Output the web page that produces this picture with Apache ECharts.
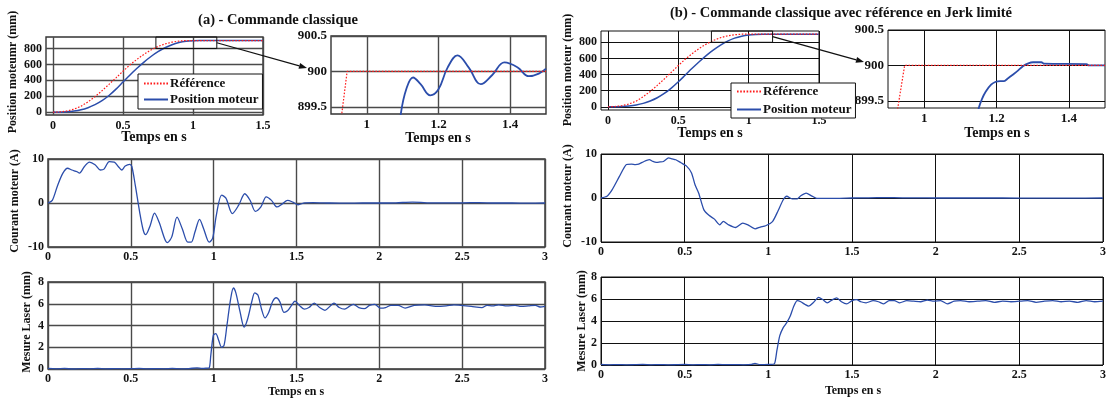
<!DOCTYPE html>
<html><head><meta charset="utf-8">
<script src="https://cdn.jsdelivr.net/npm/echarts@6/dist/echarts.min.js"></script>
<style>html,body{margin:0;padding:0;background:#fff}#c{width:1109px;height:403px}</style>
</head><body><div id="c"></div>
<script>
const FONT = '"Liberation Serif","Times New Roman",serif';
const BLUE = '#2b4dab';
const RED = '#ff1a1a';

// ---------- tick labels ----------
const ticksPosX = [0, 0.5, 1, 1.5];
const ticksPosY = [0, 200, 400, 600, 800];
const ticksZoomX = [1, 1.2, 1.4];
const ticksZoomY = [899.5, 900, 900.5];
const ticksTimeX = [0, 0.5, 1, 1.5, 2, 2.5, 3];
const ticksCurY = [-10, 0, 10];
const ticksLasY = [0, 2, 4, 6, 8];

// ---------- (a) commande classique ----------
const refA = [[0,0],[0.05,4],[0.1,16],[0.15,38],[0.2,75],[0.25,130],[0.3,195],[0.35,270],[0.4,350],[0.45,432],[0.5,515],[0.55,595],[0.6,665],[0.65,728],[0.7,782],[0.75,826],[0.8,858],[0.85,880],[0.9,894],[0.95,900],[1.5,900]];
const posA = [[0,0],[0.05,1],[0.1,5],[0.15,14],[0.2,30],[0.25,57],[0.3,95],[0.35,145],[0.4,210],[0.45,290],[0.5,380],[0.55,468],[0.6,552],[0.65,630],[0.7,700],[0.75,760],[0.8,810],[0.85,848],[0.9,875],[0.95,891],[1.0,898],[1.05,900],[1.5,900]];
const refZoomA = [[0.92,898.6],[0.93,899.4],[0.945,900],[1.5,900]];
const posZoomA = [[1.085,898.9],[1.095,899.41],[1.11,899.75],[1.129,899.915],[1.15,899.82],[1.177,899.664],[1.2,899.75],[1.225,900.05],[1.253,900.227],[1.285,900.05],[1.318,899.82],[1.35,899.95],[1.384,900.127],[1.42,900.06],[1.452,899.933],[1.48,899.97],[1.5,900.04]];
const curA = [[0,0],[0.026,0.6],[0.058,4],[0.09,6.8],[0.118,7.9],[0.144,7.5],[0.176,7.1],[0.19,6.8],[0.22,8.3],[0.25,9.3],[0.284,8.7],[0.316,7.5],[0.338,7.7],[0.37,9.4],[0.40,9.3],[0.424,8.3],[0.445,7.5],[0.466,8.4],[0.493,8.8],[0.506,8.3],[0.527,4],[0.553,-2],[0.575,-6.2],[0.59,-7.2],[0.617,-5.1],[0.643,-2.3],[0.671,-4.4],[0.704,-8.1],[0.721,-9],[0.747,-7.7],[0.779,-3.2],[0.811,-5.9],[0.844,-8.9],[0.865,-8.9],[0.887,-6.6],[0.915,-3.7],[0.94,-5.9],[0.973,-8.9],[0.994,-8],[1.016,-2.8],[1.048,1.8],[1.074,1.1],[1.113,-2.4],[1.151,-0.5],[1.188,2.1],[1.22,0.6],[1.252,-1.9],[1.285,-0.9],[1.317,1.4],[1.349,0.6],[1.382,-0.9],[1.414,-0.2],[1.446,0.6],[1.478,0.2],[1.51,-0.4],[1.55,0.05],[1.6,0.1],[1.7,0],[1.8,-0.05],[1.9,0],[2.0,0],[2.1,0.05],[2.2,0.2],[2.25,0.15],[2.3,0.05],[2.5,0.05],[2.6,0.1],[2.7,0],[2.8,0],[2.9,-0.05],[3.0,0]];
const lasA = [[0,0.05],[0.05,0.02],[0.1,0.05],[0.15,0],[0.2,0.04],[0.25,0.02],[0.3,0.05],[0.35,0.01],[0.4,0.04],[0.45,0.02],[0.5,0.03],[0.55,0.05],[0.6,0.01],[0.65,0.04],[0.7,0.02],[0.75,0.05],[0.8,0.02],[0.85,0.04],[0.9,0.1],[0.93,0.05],[0.96,0.08],[0.973,0.1],[0.983,1.3],[0.998,3.1],[1.013,3.25],[1.03,2.65],[1.048,2],[1.063,2.2],[1.08,4],[1.102,6.4],[1.119,7.45],[1.134,7],[1.16,5.2],[1.184,3.85],[1.205,4.6],[1.231,6.25],[1.248,7],[1.267,6.8],[1.289,5.5],[1.31,4.7],[1.332,5.2],[1.356,6.2],[1.377,6.55],[1.399,6.2],[1.425,5.2],[1.446,5.35],[1.468,5.8],[1.491,6.25],[1.517,5.85],[1.547,5.5],[1.575,5.65],[1.607,6.05],[1.64,5.65],[1.672,5.4],[1.704,5.8],[1.726,6.05],[1.758,5.65],[1.79,5.5],[1.823,5.8],[1.844,5.95],[1.876,5.65],[1.909,5.55],[1.941,5.85],[1.973,5.95],[2.006,5.6],[2.038,5.65],[2.07,5.85],[2.113,5.85],[2.156,5.6],[2.21,5.85],[2.275,5.9],[2.34,5.75],[2.404,5.8],[2.45,5.9],[2.49,5.85],[2.555,5.75],[2.619,5.65],[2.65,5.85],[2.684,5.8],[2.72,5.9],[2.77,5.8],[2.82,5.85],[2.856,5.75],[2.9,5.8],[2.942,5.85],[2.97,5.7],[3,5.75]];

// ---------- (b) commande avec jerk limite ----------
const refB = [[0,0],[0.05,3],[0.1,14],[0.15,35],[0.2,70],[0.25,125],[0.3,190],[0.35,265],[0.4,345],[0.45,428],[0.5,512],[0.55,592],[0.6,662],[0.65,726],[0.7,780],[0.75,824],[0.8,857],[0.85,880],[0.9,894],[0.95,900],[1.5,900]];
const posB = [[0,0],[0.05,0],[0.1,3],[0.15,10],[0.2,22],[0.25,42],[0.3,72],[0.35,112],[0.4,165],[0.45,232],[0.5,310],[0.55,395],[0.6,480],[0.65,562],[0.7,638],[0.75,705],[0.8,765],[0.85,815],[0.9,852],[0.95,876],[1.0,890],[1.05,896],[1.1,898.5],[1.15,899.4],[1.2,899.8],[1.3,900],[1.5,900]];
const refZoomB = [[0.92,898.8],[0.927,899.4],[0.946,900],[1.5,900]];
const posZoomB = [[1.145,899.2],[1.151,899.4],[1.16,899.53],[1.17,899.63],[1.185,899.73],[1.198,899.77],[1.21,899.78],[1.221,899.78],[1.232,899.82],[1.245,899.87],[1.26,899.93],[1.273,899.99],[1.288,900.03],[1.301,900.045],[1.324,900.045],[1.332,900.025],[1.449,900.02],[1.455,900.0],[1.5,900.0]];
const curB = [[0,0],[0.036,0.4],[0.067,1.9],[0.11,4.9],[0.152,7.6],[0.183,7.7],[0.205,7.6],[0.225,7.7],[0.257,8.3],[0.289,8.7],[0.31,8.3],[0.331,8.1],[0.352,8.2],[0.373,8.3],[0.404,9.1],[0.425,8.9],[0.447,8.7],[0.478,8],[0.51,7.3],[0.541,5.7],[0.562,3],[0.584,1.1],[0.615,-2.7],[0.647,-4],[0.678,-4.8],[0.71,-6.1],[0.731,-5.3],[0.763,-6.1],[0.805,-6.7],[0.847,-5.7],[0.878,-6.1],[0.921,-7],[0.952,-6.6],[0.984,-6.3],[1.026,-5.3],[1.057,-3],[1.089,-0.4],[1.11,0.4],[1.142,-0.2],[1.173,-0.2],[1.194,0.5],[1.226,1.1],[1.258,0.5],[1.289,-0.1],[1.35,-0.1],[1.405,-0.1],[1.5,0],[1.6,0.05],[1.7,0.1],[1.8,0.05],[1.9,0.05],[2.0,0],[2.2,0],[2.4,0],[2.6,-0.05],[2.8,-0.05],[3.0,0]];
const lasB = [[0,0.05],[0.05,0.02],[0.1,0.04],[0.15,0.01],[0.2,0.03],[0.25,0.05],[0.3,0.02],[0.35,0.04],[0.4,0.01],[0.45,0.03],[0.5,0.05],[0.55,0.02],[0.6,0.04],[0.65,0.02],[0.7,0.05],[0.75,0.03],[0.8,0.04],[0.85,0.02],[0.9,0.05],[0.92,0.15],[0.95,0.03],[1.0,0.05],[1.036,0.1],[1.051,1.3],[1.068,2.65],[1.089,3.4],[1.11,3.85],[1.131,4.45],[1.152,5.35],[1.173,5.85],[1.194,5.75],[1.22,5.5],[1.241,5.35],[1.268,5.65],[1.3,6.15],[1.325,5.95],[1.352,5.65],[1.384,5.95],[1.409,6.1],[1.437,5.75],[1.468,5.55],[1.5,5.85],[1.527,5.95],[1.553,5.75],[1.584,5.65],[1.626,5.85],[1.658,5.75],[1.69,5.55],[1.721,5.85],[1.753,5.85],[1.785,5.65],[1.827,5.85],[1.869,5.8],[1.91,5.75],[1.95,5.9],[1.99,5.8],[2.03,5.85],[2.07,5.55],[2.11,5.8],[2.15,5.85],[2.2,5.75],[2.25,5.8],[2.3,5.85],[2.35,5.7],[2.4,5.8],[2.45,5.75],[2.5,5.8],[2.55,5.85],[2.6,5.7],[2.65,5.8],[2.7,5.85],[2.75,5.75],[2.8,5.8],[2.85,5.7],[2.9,5.85],[2.95,5.75],[3,5.8]];

// ---------- layout ----------
const grids = [
  {left:46, top:37, width:217, height:78},   // 0 A position
  {left:331, top:36, width:215, height:78},  // 1 A zoom
  {left:48, top:159, width:497, height:88},  // 2 A courant
  {left:48, top:282, width:497, height:87},  // 3 A laser
  {left:601, top:31, width:218, height:79},  // 4 B position
  {left:888, top:30, width:217, height:78},  // 5 B zoom
  {left:601, top:154, width:504, height:88}, // 6 B courant
  {left:601, top:277, width:504, height:88}  // 7 B laser
];
const gridColorL = '#4a4a4a', gridColorR = '#111';
const gridOpts = grids.map((g, i) => Object.assign({show:true, borderColor: i < 4 ? '#333' : '#111', borderWidth: i < 4 ? 1.4 : 1, backgroundColor:'#fff', containLabel:false}, g));

function ax(gi, min, max, ticks, fs, margin) {
  const col = gi < 4 ? gridColorL : gridColorR;
  const w = gi < 4 ? 1.4 : 1;
  return {
    type:'value', gridIndex:gi, min:min, max:max,
    axisLine:{show:false},
    axisTick:{show:false, customValues:ticks},
    axisLabel:{customValues:ticks, showMinLabel:true, showMaxLabel:true, fontFamily:FONT, fontWeight:'bold', fontSize:fs, color:'#111', margin:margin, formatter:(v)=>String(v)},
    splitLine:{show:true, lineStyle:{color:col, width:w}}
  };
}
const xAxes = [
  ax(0, -0.05, 1.5, ticksPosX, 12, 5),
  ax(1, 0.9, 1.5, ticksZoomX, 13, 4),
  ax(2, 0, 3, ticksTimeX, 12, 4),
  ax(3, 0, 3, ticksTimeX, 12, 4),
  ax(4, -0.05, 1.5, ticksPosX, 12, 5),
  ax(5, 0.9, 1.5, ticksZoomX, 13, 4),
  ax(6, 0, 3, ticksTimeX, 12, 4),
  ax(7, 0, 3, ticksTimeX, 12, 4)
];
const yAxes = [
  ax(0, -35, 945, ticksPosY, 12, 4),
  ax(1, 899.4, 900.5, ticksZoomY, 13, 4),
  ax(2, -10, 10, ticksCurY, 12, 4),
  ax(3, 0, 8, ticksLasY, 12, 4),
  ax(4, -40, 940, ticksPosY, 12, 4),
  ax(5, 899.4, 900.5, ticksZoomY, 13, 4),
  ax(6, -10, 10, ticksCurY, 12, 4),
  ax(7, 0, 8, ticksLasY, 12, 4)
];

function ref(gi, data) {
  return {type:'line', name:'Référence', xAxisIndex:gi, yAxisIndex:gi, data:data, symbol:'none', showSymbol:false, clip:true,
    lineStyle:{color:RED, width:1.2, type:[1.6,1.6]}, itemStyle:{color:RED}, z:3};
}
function blue(gi, data, name, smooth, w) {
  return {type:'line', name:name, xAxisIndex:gi, yAxisIndex:gi, data:data, symbol:'none', showSymbol:false, clip:true, smooth:smooth,
    lineStyle:{color:BLUE, width:w || 1.5}, itemStyle:{color:BLUE}, z:2};
}
const series = [
  blue(0, posA, 'Position moteur', 0.3), ref(0, refA),
  blue(1, posZoomA, 'Position moteur', 0.4, 1.8), ref(1, refZoomA),
  blue(2, curA, 'Courant A', 0.3, 1.3),
  blue(3, lasA, 'Laser A', 0.3, 1.3),
  blue(4, posB, 'Position moteur', 0.3), ref(4, refB),
  blue(5, posZoomB, 'Position moteur', 0.3, 1.8), ref(5, refZoomB),
  blue(6, curB, 'Courant B', 0.2, 1.3),
  blue(7, lasB, 'Laser B', 0.2, 1.3)
];

const legendBase = {
  data:['Référence','Position moteur'], orient:'vertical', selectedMode:false,
  backgroundColor:'#fff', borderColor:'#111', borderWidth:1,
  itemWidth:24, itemHeight:12,
  itemStyle:{opacity:0, color:'rgba(0,0,0,0)', borderWidth:0},
  textStyle:{fontFamily:FONT, fontWeight:'bold', fontSize:13, color:'#111', padding:[0,0,0,-3]}, z:10
};
const legends = [
  Object.assign({}, legendBase, {left:138, top:74, itemGap:3, padding:[3,4,3,5]}),
  Object.assign({}, legendBase, {left:731, top:83, itemGap:5, padding:[2,4,2,5]})
];

function txt(x, y, s, size, rot) {
  return {type:'text', x:x, y:y, rotation: rot ? Math.PI/2 : 0, z:20,
    style:{text:s, x:0, y:0, textAlign:'center', textVerticalAlign:'middle', align:'center', verticalAlign:'middle',
      font:'bold ' + size + 'px ' + FONT, fill:'#111'}};
}
const texts = [
  txt(278, 20, '(a) - Commande classique', 14.5),
  txt(841, 13, '(b) - Commande classique avec référence en Jerk limité', 14.5),
  txt(13, 72, 'Position moteumr (mm)', 12, true),
  txt(15, 201, 'Courant moteur (A)', 12, true),
  txt(27, 322, 'Mesure Laser (mm)', 12, true),
  txt(568, 70, 'Position moteur (mm)', 12, true),
  txt(568, 196, 'Courant moteur (A)', 12, true),
  txt(582, 321, 'Mesure Laser (mm)', 12, true),
  txt(154, 137, 'Temps en s', 14),
  txt(438, 138, 'Temps en s', 14),
  txt(710, 133, 'Temps en s', 14),
  txt(997, 133, 'Temps en s', 14),
  txt(296, 392, 'Temps en s', 12),
  txt(853, 391, 'Temps en s', 12)
];

const chart = echarts.init(document.getElementById('c'), null, {renderer:'canvas'});
chart.setOption({
  animation:false, backgroundColor:'#fff',
  grid:gridOpts, xAxis:xAxes, yAxis:yAxes, series:series, legend:legends, graphic:texts
});

// zoom rectangles and arrows, placed through the axes
function px(gi, p) { return chart.convertToPixel({xAxisIndex:gi, yAxisIndex:gi}, p); }
function zoomMarks(gMain, gZoom, yTop) {
  const a = px(gMain, [0.735, yTop]);
  const b = px(gMain, [1.17, 800]);
  const z = px(gZoom, [0.9, 900]);
  const sx = b[0], sy = (a[1] + b[1]) / 2;
  const ex = z[0] - 24, ey = z[1] - 3.5;
  const ang = Math.atan2(ey - sy, ex - sx);
  const L = 8, W = 3;
  const bx = ex - L*Math.cos(ang), by = ey - L*Math.sin(ang);
  return [
    {type:'rect', z:15, shape:{x:a[0], y:a[1], width:b[0]-a[0], height:b[1]-a[1]}, style:{fill:'rgba(0,0,0,0)', stroke:'#111', lineWidth:1}},
    {type:'line', z:15, shape:{x1:sx, y1:sy, x2:bx, y2:by}, style:{stroke:'#111', lineWidth:1.2}},
    {type:'polygon', z:15, shape:{points:[[ex,ey],[bx - W*Math.sin(ang), by + W*Math.cos(ang)],[bx + W*Math.sin(ang), by - W*Math.cos(ang)]]}, style:{fill:'#111'}}
  ];
}
chart.setOption({graphic: texts.concat(zoomMarks(0, 1, 945), zoomMarks(4, 5, 940))});
</script></body></html>
